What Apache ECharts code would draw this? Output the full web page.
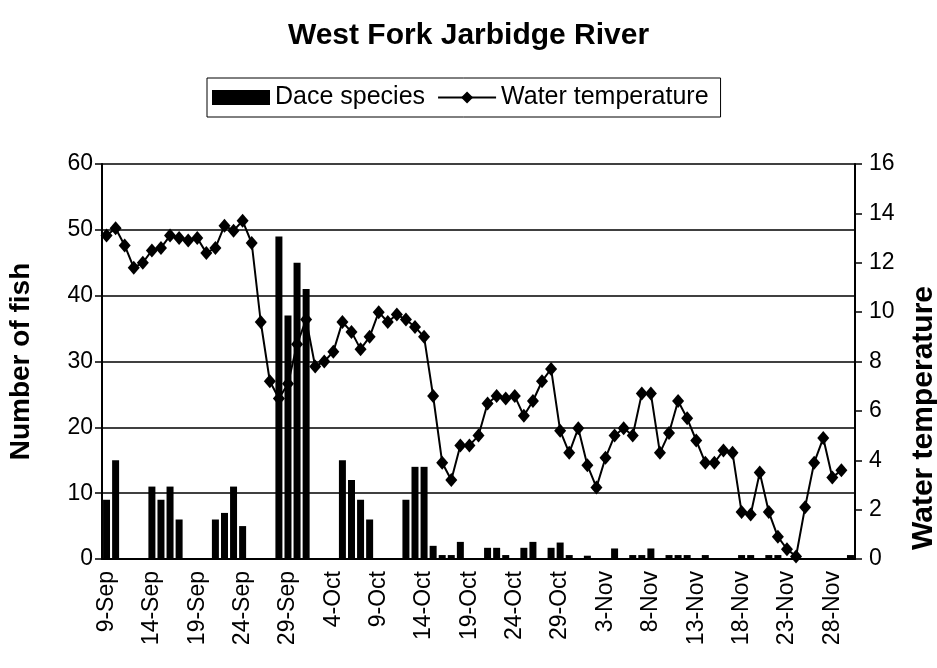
<!DOCTYPE html>
<html>
<head>
<meta charset="utf-8">
<script src="https://cdn.jsdelivr.net/npm/echarts@6/dist/echarts.min.js"></script>
<style>html,body{margin:0;padding:0;background:#fff;}#c{width:937px;height:668px;}</style>
</head>
<body>
<div id="c"></div>
<script>
// Categories: daily from 9-Sep to 30-Nov
var months = [["Sep", 9, 30], ["Oct", 1, 31], ["Nov", 1, 30]];
var categories = [];
months.forEach(function (m) { for (var d = m[1]; d <= m[2]; d++) categories.push(d + "-" + m[0]); });

var daceSpecies = [
  9, 15, 0, 0, 0, 11, 9, 11, 6, 0,
  0, 0, 6, 7, 11, 5, 0, 0, 0, 49,
  37, 45, 41, 0, 0, 0, 15, 12, 9, 6,
  0, 0, 0, 9, 14, 14, 2, 0.6, 0.6, 2.6,
  0, 0, 1.7, 1.7, 0.6, 0, 1.7, 2.6, 0, 1.7,
  2.5, 0.6, 0, 0.5, 0, 0, 1.6, 0, 0.6, 0.6,
  1.6, 0, 0.6, 0.6, 0.6, 0, 0.6, 0, 0, 0,
  0.6, 0.6, 0, 0.6, 0.6, 0, 0, 0, 0, 0,
  0, 0, 0.6
];

var waterTemperature = [
  13.1, 13.4, 12.7, 11.8, 12.0, 12.5, 12.6, 13.1, 13.0, 12.9,
  13.0, 12.4, 12.6, 13.5, 13.3, 13.7, 12.8, 9.6, 7.2, 6.5,
  7.1, 8.7, 9.7, 7.8, 8.0, 8.4, 9.6, 9.2, 8.5, 9.0,
  10.0, 9.6, 9.9, 9.7, 9.4, 9.0, 6.6, 3.9, 3.2, 4.6,
  4.6, 5.0, 6.3, 6.6, 6.5, 6.6, 5.8, 6.4, 7.2, 7.7,
  5.2, 4.3, 5.3, 3.8, 2.9, 4.1, 5.0, 5.3, 5.0, 6.7,
  6.7, 4.3, 5.1, 6.4, 5.7, 4.8, 3.9, 3.9, 4.4, 4.3,
  1.9, 1.8, 3.5, 1.9, 0.9, 0.4, 0.1, 2.1, 3.9, 4.9,
  3.3, 3.6, null
];

var chart = echarts.init(document.getElementById('c'), null, { renderer: 'canvas' });
var font = 'Liberation Sans, Arial, sans-serif';
chart.setOption({
  animation: false,
  backgroundColor: '#fff',
  textStyle: { fontFamily: font, color: '#000' },
  title: {
    text: 'West Fork Jarbidge River',
    left: 'center', top: 16,
    textStyle: { fontFamily: font, fontSize: 30, fontWeight: 'bold', color: '#000' }
  },
  legend: {
    left: 207, top: 78,
    borderColor: '#000', borderWidth: 1, borderRadius: 0,
    padding: [7, 12, 7, 5],
    itemGap: 12,
    itemWidth: 58, itemHeight: 15,
    textStyle: { fontFamily: font, fontSize: 25, color: '#000' },
    data: [
      { name: 'Dace species', icon: 'rect' },
      { name: 'Water temperature' }
    ]
  },
  grid: { left: 102, right: 82, top: 164, bottom: 109, containLabel: false, outerBoundsMode: 'none' },
  graphic: [
    {
      type: 'text', left: 909, top: 286,
      rotation: Math.PI / 2,
      style: { text: 'Water temperature', font: 'bold 30px Liberation Sans, Arial, sans-serif', fill: '#000' }
    }
  ],
  xAxis: {
    type: 'category',
    data: categories,
    boundaryGap: true,
    axisLine: { lineStyle: { color: '#000', width: 2 } },
    axisTick: { interval: 0, length: 7, lineStyle: { color: '#000', width: 1.5 } },
    axisLabel: { interval: 4, rotate: 90, fontFamily: font, fontSize: 23, color: '#000', margin: 12 }
  },
  yAxis: [
    {
      type: 'value', min: 0, max: 60, interval: 10,
      name: 'Number of fish', nameLocation: 'middle', nameRotate: 90, nameGap: 67,
      nameTextStyle: { fontFamily: font, fontSize: 28, fontWeight: 'bold', color: '#000' },
      axisLine: { show: true, lineStyle: { color: '#000', width: 2 } },
      axisTick: { show: true, length: 7, lineStyle: { color: '#000', width: 1.5 } },
      axisLabel: { fontFamily: font, fontSize: 23, color: '#000', margin: 9 },
      splitLine: { show: true, lineStyle: { color: '#000', width: 1.5 } }
    },
    {
      type: 'value', min: 0, max: 16, interval: 2,
      axisLine: { show: true, lineStyle: { color: '#000', width: 2 } },
      axisTick: { show: true, length: 7, lineStyle: { color: '#000', width: 1.5 } },
      axisLabel: { fontFamily: font, fontSize: 23, color: '#000', margin: 14 },
      splitLine: { show: false }
    }
  ],
  series: [
    {
      name: 'Dace species', type: 'bar', yAxisIndex: 0,
      data: daceSpecies, barWidth: 7,
      itemStyle: { color: '#000' }
    },
    {
      name: 'Water temperature', type: 'line', yAxisIndex: 1,
      data: waterTemperature,
      symbol: 'diamond', symbolSize: [12, 14],
      showAllSymbol: true,
      lineStyle: { color: '#000', width: 2 },
      itemStyle: { color: '#000' }
    }
  ]
});
</script>
</body>
</html>
